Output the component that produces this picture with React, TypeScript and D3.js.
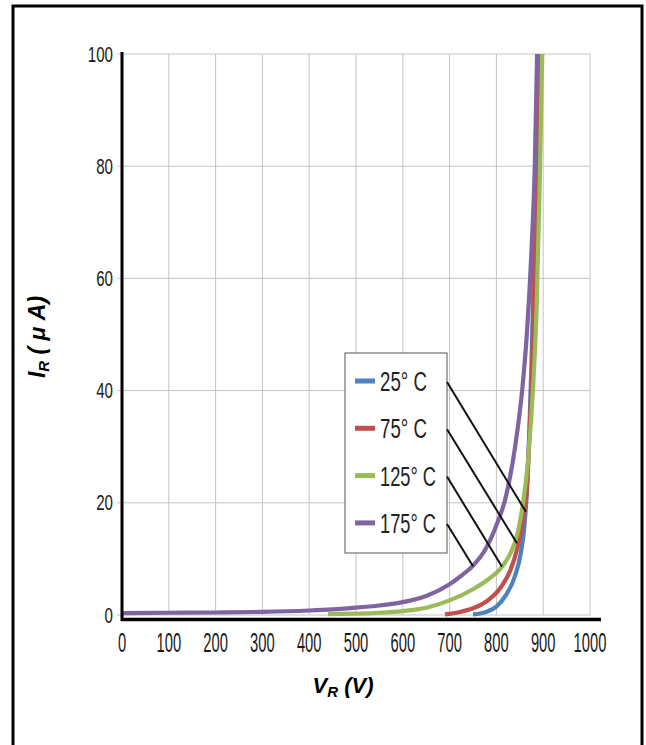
import React, { useEffect, useRef } from 'react';
import * as d3 from 'd3';

// tick values
const voltTicks = [0, 100, 200, 300, 400, 500, 600, 700, 800, 900, 1000];
const currentTicks = [0, 20, 40, 60, 80, 100];

// legend labels
const seriesLabels = ['25° C', '75° C', '125° C', '175° C'];

// reverse current curves, [V, uA]
const curve25 = [[750, 0.1], [780, 0.6], [800, 1.5], [820, 3.5], [840, 7], [852, 11], [860, 16], [865, 22], [870, 32], [875, 45], [880, 62], [885, 82], [888, 100]];
const curve75 = [[690, 0.1], [720, 0.5], [750, 1.2], [780, 2.5], [810, 5], [830, 8], [845, 12], [857, 17], [865, 22], [872, 35], [880, 55], [886, 80], [890, 100]];
const curve125 = [[440, 0.15], [500, 0.25], [550, 0.4], [600, 0.7], [650, 1.3], [700, 2.6], [750, 4.6], [780, 6.2], [812, 8.6], [830, 11], [845, 14.5], [857, 20], [868, 28], [878, 40], [886, 55], [892, 75], [898, 100]];
const curve175 = [[0, 0.35], [100, 0.4], [200, 0.45], [300, 0.55], [400, 0.8], [450, 1.0], [500, 1.3], [550, 1.7], [600, 2.3], [650, 3.4], [700, 5.5], [725, 7], [750, 8.8], [775, 11.5], [800, 16], [820, 21], [840, 30], [855, 40], [865, 50], [875, 65], [882, 80], [887, 100]];

// where each leader line touches its curve, [V, uA]
const leaderEnds = [[863, 18.4], [844, 12.8], [812, 8.6], [750, 8.7]];

const colors = ['#4f81bd', '#c0504d', '#9bbb59', '#8064a2'];

const narrow = '"Liberation Sans Narrow", "Liberation Sans", Arial, sans-serif';

const App = () => {
  const ref = useRef<SVGSVGElement>(null);

  useEffect(() => {
    const svg = d3.select(ref.current);
    svg.selectAll('*').remove();

    const x = d3.scaleLinear().domain([0, 1000]).range([122, 590]);
    const y = d3.scaleLinear().domain([0, 100]).range([615, 54]);

    // frame
    svg.append('rect')
      .attr('x', 13).attr('y', 6)
      .attr('width', 629).attr('height', 800)
      .attr('fill', 'none')
      .attr('stroke', '#000')
      .attr('stroke-width', 3);

    // grid
    svg.append('g')
      .selectAll('line')
      .data(currentTicks)
      .enter()
      .append('line')
      .attr('x1', 117).attr('x2', x(1000))
      .attr('y1', d => y(d)).attr('y2', d => y(d))
      .attr('stroke', '#c4c4c4')
      .attr('stroke-width', 1);

    svg.append('g')
      .selectAll('line')
      .data(voltTicks.filter(d => d > 0))
      .enter()
      .append('line')
      .attr('x1', d => x(d)).attr('x2', d => x(d))
      .attr('y1', y(100)).attr('y2', y(0))
      .attr('stroke', '#c4c4c4')
      .attr('stroke-width', 1);

    // curves
    const line = d3.line<number[]>()
      .x(d => x(d[0]))
      .y(d => y(d[1]))
      .curve(d3.curveMonotoneX);

    [curve25, curve75, curve125, curve175].forEach((c, i) => {
      svg.append('path')
        .attr('d', line(c))
        .attr('fill', 'none')
        .attr('stroke', colors[i])
        .attr('stroke-width', 4.2)
        .attr('stroke-linejoin', 'round');
    });

    // axes
    svg.append('line')
      .attr('x1', x(0)).attr('x2', x(0))
      .attr('y1', 52).attr('y2', 621)
      .attr('stroke', '#000').attr('stroke-width', 3);
    svg.append('line')
      .attr('x1', 121).attr('x2', 601)
      .attr('y1', 619.5).attr('y2', 619.5)
      .attr('stroke', '#000').attr('stroke-width', 3.5);

    // tick labels
    svg.append('g')
      .selectAll('text')
      .data(currentTicks)
      .enter()
      .append('text')
      .attr('x', 113)
      .attr('y', d => y(d) + 7.5)
      .attr('text-anchor', 'end')
      .attr('font-family', narrow)
      .attr('font-size', 22)
      .attr('textLength', d => String(d).length * 8.4)
      .attr('lengthAdjust', 'spacingAndGlyphs')
      .attr('fill', '#1a1a1a')
      .text(d => d);

    svg.append('g')
      .selectAll('text')
      .data(voltTicks)
      .enter()
      .append('text')
      .attr('x', d => x(d))
      .attr('y', 652)
      .attr('text-anchor', 'middle')
      .attr('font-family', narrow)
      .attr('font-size', 27)
      .attr('textLength', d => String(d).length * 8.2)
      .attr('lengthAdjust', 'spacingAndGlyphs')
      .attr('fill', '#1a1a1a')
      .text(d => d);

    // axis titles
    const xt = svg.append('text')
      .attr('x', 343).attr('y', 693)
      .attr('text-anchor', 'middle')
      .attr('font-family', '"Liberation Sans", Arial, sans-serif')
      .attr('font-size', 22)
      .attr('font-weight', 'bold')
      .attr('font-style', 'italic');
    xt.append('tspan').text('V');
    xt.append('tspan').attr('font-size', 15).attr('dy', 4).text('R');
    xt.append('tspan').attr('dy', -4).text(' (V)');

    const yt = svg.append('text')
      .attr('transform', 'translate(45,337) rotate(-90)')
      .attr('text-anchor', 'middle')
      .attr('font-family', '"Liberation Sans", Arial, sans-serif')
      .attr('font-size', 23)
      .attr('font-weight', 'bold')
      .attr('font-style', 'italic');
    yt.append('tspan').text('I');
    yt.append('tspan').attr('font-size', 15).attr('dy', 4).text('R');
    yt.append('tspan').attr('dy', -4).text(' ( μ A)');

    // legend
    const lg = { left: 345, top: 353, width: 102, height: 200, row0: 28, step: 47.3 };
    svg.append('rect')
      .attr('x', lg.left).attr('y', lg.top)
      .attr('width', lg.width).attr('height', lg.height)
      .attr('fill', '#fff')
      .attr('stroke', '#555')
      .attr('stroke-width', 1);

    seriesLabels.forEach((label, i) => {
      const ry = lg.top + lg.row0 + i * lg.step;
      svg.append('line')
        .attr('x1', lg.left + 10).attr('x2', lg.left + 30)
        .attr('y1', ry).attr('y2', ry)
        .attr('stroke', colors[i])
        .attr('stroke-width', 5);
      svg.append('text')
        .attr('x', lg.left + 35)
        .attr('y', ry + 10)
        .attr('font-family', narrow)
        .attr('font-size', 27)
        .attr('textLength', label.length === 5 ? 47 : 56)
        .attr('lengthAdjust', 'spacingAndGlyphs')
        .attr('fill', '#222')
        .text(label);

      // leader line from legend row to its curve
      svg.append('line')
        .attr('x1', lg.left + lg.width).attr('y1', ry + 1)
        .attr('x2', x(leaderEnds[i][0])).attr('y2', y(leaderEnds[i][1]))
        .attr('stroke', '#111')
        .attr('stroke-width', 2);
    });
  }, []);

  return (
    <svg ref={ref} width={646} height={745} style={{ position: 'absolute', left: 0, top: 0, background: '#fff' }} />
  );
};

export default App;
